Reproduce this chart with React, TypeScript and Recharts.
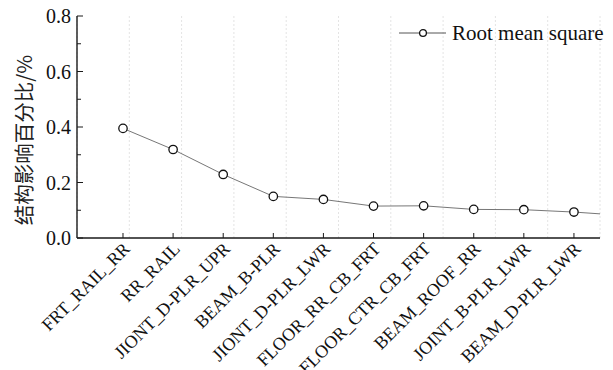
import React from 'react';
import { LineChart, Line, XAxis, YAxis, CartesianGrid } from 'recharts';

// Category labels (x axis)
const categories = [
  'FRT_RAIL_RR',
  'RR_RAIL',
  'JIONT_D-PLR_UPR',
  'BEAM_B-PLR',
  'JIONT_D-PLR_LWR',
  'FLOOR_RR_CB_FRT',
  'FLOOR_CTR_CB_FRT',
  'BEAM_ROOF_RR',
  'JOINT_B-PLR_LWR',
  'BEAM_D-PLR_LWR',
];

// Root mean square values (%); the last value lies beyond the right frame (line is cut there)
const rmsValues = [0.395, 0.319, 0.229, 0.15, 0.139, 0.115, 0.116, 0.103, 0.102, 0.0935, 0.081];

const yTicks = [0, 0.1, 0.2, 0.3, 0.4, 0.5, 0.6, 0.7, 0.8];
const xTicks = categories.map((_, i) => i);

const seriesName = 'Root mean square';
const yLabel = '结构影响百分比/%';

const data = rmsValues.map((v, i) => ({ idx: i, rms: v }));

const SERIF = '"Liberation Serif", "Times New Roman", "DejaVu Serif", serif';
const AXIS = '#1a1a1a';

const YTick = (props: any) => {
  const { x, y, payload } = props;
  const v = payload.value as number;
  const major = Math.round(v * 10) % 2 === 0;
  return (
    <g>
      <line x1={x} y1={y} x2={x + (major ? 6 : 4)} y2={y} stroke={AXIS} strokeWidth={1} />
      {major && (
        <text x={x - 6} y={y} dy={7} textAnchor="end" fontFamily={SERIF} fontSize={20} fill="#111">
          {v.toFixed(1)}
        </text>
      )}
    </g>
  );
};

const XTick = (props: any) => {
  const { x, y, payload } = props;
  const label = categories[payload.value] ?? '';
  const ax = x + 8;
  const ay = y + 12;
  return (
    <g>
      <line x1={x} y1={y} x2={x} y2={y - 5} stroke={AXIS} strokeWidth={1} />
      <text
        x={ax}
        y={ay}
        textAnchor="end"
        fontFamily={SERIF}
        fontSize={18}
        fill="#111"
        transform={`rotate(-45, ${ax}, ${ay})`}
      >
        {label}
      </text>
    </g>
  );
};

const YLabel = (props: any) => {
  const vb = props.viewBox || {};
  const cx = vb.x + 6;
  const cy = vb.y + vb.height / 2 + 13;
  return (
    <text
      x={cx}
      y={cy}
      textAnchor="middle"
      dominantBaseline="central"
      fontFamily='"Noto Sans CJK SC", sans-serif'
      fontSize={20.5}
      fill="#222"
      transform={`rotate(-90, ${cx}, ${cy})`}
    >
      {yLabel}
    </text>
  );
};

const LegendBox = () => (
  <div
    style={{
      position: 'absolute',
      left: 399,
      top: 21,
      display: 'flex',
      alignItems: 'center',
      fontFamily: SERIF,
      fontSize: 21,
      color: '#111',
      whiteSpace: 'nowrap',
      lineHeight: '24px',
      pointerEvents: 'none',
    }}
  >
    <svg width={47} height={12} style={{ display: 'block' }}>
      <line x1={0} y1={6} x2={47} y2={6} stroke="#555" strokeWidth={1} />
      <circle cx={24} cy={6} r={3.4} fill="#fff" stroke="#111" strokeWidth={1.3} />
    </svg>
    <span style={{ marginLeft: 6 }}>{seriesName}</span>
  </div>
);

export default function App() {
  return (
    <div style={{ position: 'absolute', left: 0, top: 0, width: 613, height: 370, background: '#fff' }}>
      <LineChart width={613} height={370} data={data} margin={{ top: 16, right: 13, left: 17, bottom: 0 }}>
        <CartesianGrid horizontal={false} stroke="#e4e4e4" strokeDasharray="2 2" />
        <XAxis
          xAxisId="main"
          dataKey="idx"
          type="number"
          domain={[-0.918, 9.52]}
          allowDataOverflow
          ticks={xTicks}
          interval={0}
          height={132}
          tickSize={0}
          tickMargin={0}
          tickLine={false}
          axisLine={{ stroke: AXIS, strokeWidth: 1.4 }}
          tick={<XTick />}
        />
        <XAxis
          xAxisId="top"
          orientation="top"
          dataKey="idx"
          type="number"
          domain={[-0.918, 9.52]}
          allowDataOverflow
          height={0}
          tick={false}
          tickLine={false}
          axisLine={{ stroke: AXIS, strokeWidth: 1.4 }}
        />
        <YAxis
          yAxisId="main"
          type="number"
          domain={[0, 0.8]}
          ticks={yTicks}
          interval={0}
          width={60}
          tickSize={0}
          tickMargin={0}
          tickLine={false}
          axisLine={{ stroke: AXIS, strokeWidth: 1.4 }}
          tick={<YTick />}
          label={<YLabel />}
        />
        <YAxis
          yAxisId="right"
          orientation="right"
          type="number"
          domain={[0, 0.8]}
          width={0}
          tick={false}
          tickLine={false}
          axisLine={{ stroke: AXIS, strokeWidth: 1.4 }}
        />
        <Line
          xAxisId="main"
          yAxisId="main"
          dataKey="rms"
          name={seriesName}
          stroke="#666"
          strokeWidth={0.9}
          dot={{ r: 4.2, fill: '#fff', stroke: '#111', strokeWidth: 1.3 }}
          activeDot={false}
          isAnimationActive={false}
        />
      </LineChart>
      <LegendBox />
    </div>
  );
}
